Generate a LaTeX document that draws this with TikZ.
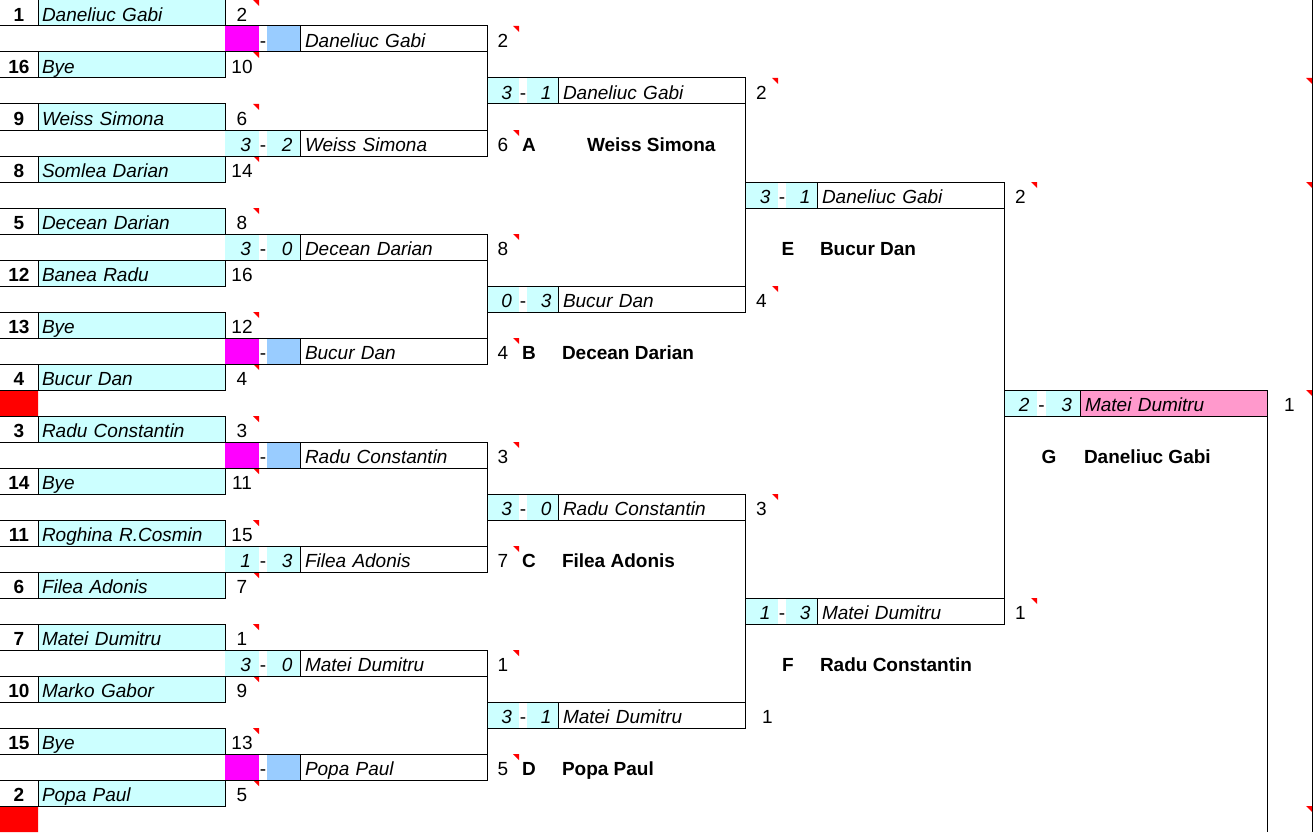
\documentclass[tikz,border=0pt]{standalone}
\usepackage{fontspec}
\setmainfont{Liberation Sans}
\definecolor{cellcyan}{HTML}{CCFFFF}
\definecolor{byemag}{HTML}{FF00FF}
\definecolor{byeblue}{HTML}{99CCFF}
\definecolor{winpink}{HTML}{FF99CC}
\newcommand\cellfont{\fontsize{19}{21}\selectfont}
\newcommand\cmark[1]{\fill[red] (#1) -- ++(-6,0) -- ++(6,6) -- cycle;}
\begin{document}
\begin{tikzpicture}[x=1pt, y=-1pt, line width=1pt,
  every node/.style={inner sep=0pt, outer sep=0pt, minimum height=26pt,
    text height=16.5pt, text depth=0pt, font=\cellfont},
  seed/.style={minimum width=38pt, font=\cellfont\bfseries},
  player/.style={draw, fill=cellcyan, anchor=west, minimum width=187pt,
    text width=179pt, align=left, font=\cellfont\itshape},
  winner/.style={draw, fill=white, anchor=west, minimum width=187pt,
    text width=177pt, align=left, font=\cellfont\itshape},
  score/.style={fill=cellcyan, anchor=west, minimum width=#1,
    text width=18pt, align=right, font=\cellfont\itshape},
  num/.style={minimum width=#1},
  lab/.style={font=\cellfont\bfseries}]
\useasboundingbox (0,0) rectangle (1313,832);
\coordinate (edgetop) at (1312,0);
\coordinate (edgebot) at (1312,832);
\fill[red] (0,390) rectangle (38,416) (0,806) rectangle (38,832);
\foreach \r/\sd/\nm/\nr/\tr in {0/1/Daneliuc Gabi/2/1, 2/16/Bye/10/1,
  4/9/Weiss Simona/6/1, 6/8/Somlea Darian/14/1, 8/5/Decean Darian/8/1,
  10/12/Banea Radu/16/0, 12/13/Bye/12/1, 14/4/Bucur Dan/4/1,
  16/3/Radu Constantin/3/1, 18/14/Bye/11/1, 20/11/Roghina R.Cosmin/15/1,
  22/6/Filea Adonis/7/1, 24/7/Matei Dumitru/1/1, 26/10/Marko Gabor/9/1,
  28/15/Bye/13/1, 30/2/Popa Paul/5/1} {
  \node[seed] (sd\r) at (19,{26*\r+13}) {\sd};
  \node[player] (pl\r) at (38,{26*\r+13}) {\nm};
  \node[num=34pt] (pn\r) at (242,{26*\r+13}) {\nr};
  \draw (sd\r.north west) -- (pl\r.north west) (sd\r.south west) -- (pl\r.south west);
  \ifnum\tr=1 \cmark{pn\r.north east}\fi
}
\foreach \r/\fa/\fb/\sa/\sb/\nm/\nr in {1/byemag/byeblue/{}/{}/Daneliuc Gabi/2,
  5/cellcyan/cellcyan/3/2/Weiss Simona/6, 9/cellcyan/cellcyan/3/0/Decean Darian/8,
  13/byemag/byeblue/{}/{}/Bucur Dan/4, 17/byemag/byeblue/{}/{}/Radu Constantin/3,
  21/cellcyan/cellcyan/1/3/Filea Adonis/7, 25/cellcyan/cellcyan/3/0/Matei Dumitru/1,
  29/byemag/byeblue/{}/{}/Popa Paul/5} {
  \node[score=34pt, fill=\fa] (ma\r) at (225,{26*\r+13}) {\sa};
  \node (md\r) at (263,{26*\r+13}) {-};
  \node[score=33pt, fill=\fb] (mb\r) at (267,{26*\r+13}) {\sb};
  \node[winner] (mw\r) at (300,{26*\r+13}) {\nm};
  \node[num=32pt] (mn\r) at (503,{26*\r+13}) {\nr};
  \draw (0,{26*\r}) -- (mw\r.north west) (0,{26*\r+26}) -- (mw\r.south west);
  \cmark{mn\r.north east}
}
\foreach \r/\sa/\sb/\nm/\nr/\tr/\dx in {3/3/1/Daneliuc Gabi/2/1/0,
  11/0/3/Bucur Dan/4/1/0, 19/3/0/Radu Constantin/3/1/0, 27/3/1/Matei Dumitru/1/0/6} {
  \node[score=32pt] (qa\r) at (487,{26*\r+13}) {\sa};
  \node (qd\r) at (523,{26*\r+13}) {-};
  \node[score=31pt] (qb\r) at (527,{26*\r+13}) {\sb};
  \node[winner] (qw\r) at (558,{26*\r+13}) {\nm};
  \node[num=33pt, xshift=\dx pt] (qn\r) at (761.5,{26*\r+13}) {\nr};
  \draw (qa\r.north west) -- (qw\r.north west) (qa\r.south west) -- (qw\r.south west);
  \ifnum\tr=1 \cmark{qn\r.north east}\fi
}
\foreach \r/\sa/\sb/\nm/\nr in {7/3/1/Daneliuc Gabi/2, 23/1/3/Matei Dumitru/1} {
  \node[score=33pt] (ta\r) at (745,{26*\r+13}) {\sa};
  \node (td\r) at (782,{26*\r+13}) {-};
  \node[score=31pt] (tb\r) at (786,{26*\r+13}) {\sb};
  \node[winner] (tw\r) at (817,{26*\r+13}) {\nm};
  \node[num=33pt] (tn\r) at (1020.5,{26*\r+13}) {\nr};
  \draw (ta\r.north west) -- (tw\r.north west) (ta\r.south west) -- (tw\r.south west);
  \cmark{tn\r.north east}
}
\node[score=33pt] (fa) at (1004,403) {2};
\node (fd) at (1041.5,403) {-};
\node[score=34pt] (fb) at (1046,403) {3};
\node[winner, fill=winpink] (fw) at (1080,403) {Matei Dumitru};
\node[num=45pt] (fn) at (1289.5,403) {1};
\draw (fa.north west) -- (fw.north west) (fa.south west) -- (fw.south west);
\cmark{fn.north east}
\foreach \u/\v in {1/5, 9/13, 17/21, 25/29} {
  \draw (mw\u.north east) -- (mw\v.south east);
}
\foreach \u/\v in {3/11, 19/27} {
  \draw (qw\u.north east) -- (qw\v.south east);
}
\draw (tw7.north east) -- (tw23.south east);
\draw (fw.north east) -- (fw.north east |- edgebot);
\draw (edgetop) -- (edgebot);
\foreach \r in {3,7,31} {
  \cmark{1312,26*\r}
}
\foreach \r/\lt/\lx/\nm/\nx in {5/A/529/Weiss Simona/587, 13/B/529/Decean Darian/562,
  21/C/529/Filea Adonis/562, 29/D/529/Popa Paul/562, 9/E/788/Bucur Dan/820,
  25/F/788/Radu Constantin/820, 17/G/1049/Daneliuc Gabi/1084} {
  \node[lab] (lt\lt) at (\lx,{26*\r+13}) {\lt};
  \node[lab, anchor=west] (ln\lt) at (\nx,{26*\r+13}) {\nm};
}
\end{tikzpicture}
\end{document}
